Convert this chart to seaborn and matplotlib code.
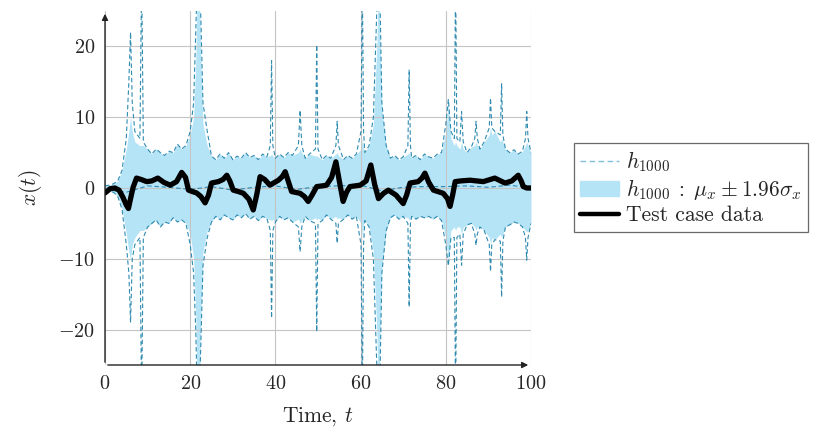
import numpy as np
import pandas as pd
import seaborn as sns
import matplotlib
matplotlib.use("Agg")
import matplotlib.pyplot as plt
from matplotlib.lines import Line2D
from matplotlib.patches import Patch

# ---- data ----
# ensemble band (fill) and the dashed h_1000 curves, on one time grid
t_band = [0, 1, 2, 3, 4, 5, 5.6, 6.0, 6.4, 7, 8.2, 8.6, 9.0, 10, 11, 12, 13, 14, 15, 16,
          17, 18, 19, 20, 20.8, 21.3, 21.7, 22.1, 22.5, 23, 24, 25, 26, 27, 28, 29, 30, 31, 32, 33,
          34, 35, 36, 37, 38, 38.8, 39.1, 39.4, 40, 41, 42, 43, 44, 45.4, 45.8, 46.2, 47, 48, 49.4, 49.7,
          50.0, 51, 52, 53, 54.2, 54.5, 54.8, 56, 57, 58, 59, 60.1, 60.4, 60.7, 61, 62, 63, 63.8, 64.2, 64.6,
          65, 66, 67, 68, 69, 70, 71.1, 71.4, 71.7, 72, 73, 74, 75, 76, 77, 78, 79, 80, 80.6, 81.2,
          82.0, 82.3, 82.6, 83.3, 83.7, 84.1, 85, 86, 86.8, 87.1, 87.4, 88, 89, 90.2, 90.5, 90.8, 91.5, 92.8, 93.1, 93.4,
          94, 95, 96, 97, 98, 98.7, 99.0, 99.3, 100]
band_hi = [0.3, 0.4, 0.6, 1.0, 2.5, 5.5, 8, 10, 8, 6.5, 6, 6, 6, 5.5, 4.8, 5.5, 5.0, 4.6, 5.2, 5.0,
           6.2, 5.5, 6.0, 7.5, 10, 18, 30, 30, 18, 9, 6, 4.5, 4.0, 4.8, 4.2, 5.0, 4.0, 4.5, 4.2, 5.0,
           4.3, 4.6, 4.0, 4.8, 4.4, 4.6, 4.8, 4.5, 4.2, 4.8, 4.3, 5.0, 4.6, 5.0, 5.5, 5.0, 4.2, 4.8, 4.5, 4.6,
           4.4, 4.0, 4.6, 4.2, 4.8, 5.0, 4.6, 4.0, 4.6, 4.2, 4.8, 5.5, 7, 5.5, 5.0, 6.0, 9, 20, 30, 20,
           11, 6, 4.2, 4.6, 4.0, 4.4, 4.8, 5.0, 4.6, 4.2, 4.6, 4.0, 4.8, 4.4, 4.2, 4.8, 5.0, 8, 12, 7,
           6, 6.5, 6, 5.5, 6.5, 5.5, 5.0, 5.8, 6.0, 6.5, 6, 5.5, 6.5, 7.5, 8.6, 7.5, 8.0, 6.5, 7.0, 6.5,
           5.5, 5.0, 5.4, 4.8, 5.2, 6, 6.5, 6, 5.0]
band_lo = [-0.6, -0.5, -0.6, -1.2, -3.0, -6.5, -9, -10, -8, -7, -6, -6, -6, -5.5, -5.0, -4.5, -5.5, -4.8, -5.0, -4.2,
           -4.8, -4.5, -5.0, -6.5, -10, -18, -30, -30, -18, -9, -6, -4.8, -4.0, -4.5, -3.8, -4.2, -4.5, -3.8, -4.2, -3.6,
           -4.4, -4.0, -4.6, -4.0, -4.3, -4.5, -4.6, -4.4, -4.8, -4.0, -4.5, -4.2, -4.8, -4.4, -5.0, -4.6, -4.0, -4.6, -4.2, -4.5,
           -4.3, -4.6, -3.8, -4.4, -4.0, -4.4, -4.2, -4.4, -3.8, -4.4, -4.0, -5.0, -7, -5.0, -4.6, -5.5, -9, -20, -30, -20,
           -11, -6, -4.2, -3.8, -4.4, -4.0, -4.2, -4.5, -4.2, -4.0, -4.4, -4.0, -4.2, -4.0, -4.4, -4.0, -4.6, -7, -10.6, -6,
           -5.5, -6, -5.5, -5.5, -6.5, -5.5, -5.2, -5.0, -5.5, -6, -5.5, -5.5, -6.0, -7.0, -8, -7.0, -7.3, -6.5, -7.0, -6.5,
           -5.5, -5.2, -4.8, -5.0, -5.5, -6, -6.2, -6, -5.0]
dash_hi = [0.3, 0.4, 0.6, 1.0, 2.5, 7, 15, 22, 12, 8, 7, 30, 6.5, 5.5, 4.8, 5.5, 5.0, 4.6, 5.2, 5.0,
           6.2, 5.5, 6.0, 8, 12, 22, 30, 30, 24, 12, 8, 4.5, 4.0, 4.8, 4.2, 5.0, 4.0, 4.5, 4.2, 5.0,
           4.3, 4.6, 4.0, 4.8, 4.4, 6, 18, 6, 4.2, 4.8, 4.3, 5.0, 4.6, 6, 11, 6, 4.2, 4.8, 5.5, 20.2,
           5.5, 4.0, 4.6, 4.2, 6, 9.4, 6, 4.0, 4.6, 4.2, 4.8, 8, 30, 8, 5.0, 6.0, 10, 25, 30, 25,
           12, 6, 4.2, 4.6, 4.0, 4.4, 6, 16.7, 6, 4.2, 4.6, 4.0, 4.8, 4.4, 4.2, 4.8, 5.0, 9, 12.5, 8,
           7, 30, 7, 6.5, 10.8, 6.5, 5.0, 5.8, 7, 9.4, 7, 5.5, 6.5, 8.5, 12.7, 8.5, 8.0, 7.5, 14.8, 7.5,
           5.5, 5.0, 5.4, 4.8, 5.2, 7, 10.8, 7, 5.0]
dash_lo = [-0.6, -0.5, -0.6, -1.2, -3.0, -8, -12, -19, -10, -8, -7, -30, -7, -5.5, -5.0, -4.5, -5.5, -4.8, -5.0, -4.2,
           -4.8, -4.5, -5.0, -8, -12, -20, -30, -30, -22, -11, -7, -4.8, -4.0, -4.5, -3.8, -4.2, -4.5, -3.8, -4.2, -3.6,
           -4.4, -4.0, -4.6, -4.0, -4.3, -6, -18.4, -6, -4.8, -4.0, -4.5, -4.2, -4.8, -5.5, -9, -5.5, -4.0, -4.6, -5, -20.3,
           -5, -4.6, -3.8, -4.4, -5, -7.8, -5, -4.4, -3.8, -4.4, -4.0, -8, -30, -8, -4.6, -5.5, -10, -25, -30, -25,
           -12, -6, -4.2, -3.8, -4.4, -4.0, -5, -16.8, -5, -4.0, -4.4, -4.0, -4.2, -4.0, -4.4, -4.0, -4.6, -8, -11, -7,
           -7, -30, -7, -6.5, -10.9, -6.5, -5.2, -5.0, -6.5, -8.1, -6.5, -5.5, -6.0, -8, -11.8, -8, -7.3, -7.5, -15.4, -7.5,
           -5.5, -5.2, -4.8, -5.0, -5.5, -7, -10.2, -7, -5.0]

# ensemble mean (dashed, near zero)
t_mid = [0, 5, 10, 15, 20, 25, 30, 35, 40, 45, 50, 55, 60, 65, 70, 75, 80, 85, 90, 95, 100]
dash_mid = [-0.2, -0.6, 0.3, 0.1, -0.2, 0.2, -0.3, 0.1, 0.3, -0.2, 0.2, 0.3, 0.4, -0.4, 0.1, 0.2, 0.2, 0.3, 0.1, 0.4, 0.0]

# test case trajectory
t_test = [0, 0.4, 1.2, 2.3, 3.3, 4.2, 5.0, 5.5, 6.0, 6.6, 7.4, 8.5, 9.8, 11.0, 12.4, 13.8, 15.3, 16.8, 18.0, 18.9,
          19.6, 20.5, 21.5, 22.5, 23.5, 24.3, 25.0, 26.6, 27.7, 28.6, 29.3, 30.1, 31.3, 32.5, 33.8, 34.8, 35.6, 36.4, 37.5, 38.7,
          40.7, 41.6, 42.3, 43.0, 43.8, 45.8, 46.8, 47.7, 48.6, 49.7, 51.0, 52.0, 53.2, 54.2, 55.0, 55.9, 56.7, 57.5, 59.9, 61.3,
          62.4, 63.3, 64.2, 65.3, 66.5, 68.3, 70.0, 70.8, 71.6, 73.5, 74.4, 75.1, 76.0, 77.1, 79.4, 80.4, 81.0, 81.6, 82.2, 83.5,
          85.7, 88.8, 91.5, 93.9, 95.5, 97.0, 97.7, 98.2, 99.0, 100]
x_test = [-0.7, -0.5, -0.1, 0.0, -0.3, -1.3, -2.4, -2.9, -1.5, 0.1, 1.4, 1.2, 0.9, 1.0, 1.4, 0.8, 0.4, 0.9, 2.2, 1.5,
          -0.3, -0.5, -0.7, -1.2, -2.1, -1.0, 0.7, 0.9, 1.2, 1.8, 1.0, -0.3, -0.5, -0.75, -1.6, -3.1, -1.0, 1.6, 1.2, 0.4,
          1.1, 1.6, 2.3, 1.0, -0.5, -0.75, -1.2, -1.9, -1.0, 0.2, 0.3, 0.4, 1.5, 3.7, 1.0, -1.9, -0.6, 0.2, 0.4, 1.0,
          3.25, 0.5, -1.5, -0.8, -0.3, -1.0, -2.2, -1.0, 0.7, 0.9, 1.4, 2.1, 0.8, -0.3, -0.75, -1.5, -2.6, -1.0, 0.9, 1.0,
          1.1, 0.9, 1.4, 0.7, 1.0, 1.8, 1.0, 0.2, 0.0, 0.0]

labels = [r"$h_{1000}$", r"$h_{1000}\;:\;\mu_x \pm 1.96\sigma_x$", "Test case data"]

band_df = pd.DataFrame({"t": t_band, "hi": band_hi, "lo": band_lo,
                        "dhi": dash_hi, "dlo": dash_lo})
mid_df = pd.DataFrame({"t": t_mid, "mid": dash_mid})
test_df = pd.DataFrame({"t": t_test, "x": x_test})

# ---- style ----
sns.set_theme(style="whitegrid")
plt.rcParams["font.family"] = ["cmr10", "DejaVu Serif"]
plt.rcParams["mathtext.fontset"] = "cm"
plt.rcParams["axes.formatter.use_mathtext"] = True

fill_c = "#b6e4f7"
dash_c = "#2f8bb0"

fig = plt.figure(figsize=(8.29, 4.44), dpi=100)
ax = fig.add_axes([105 / 829, 79 / 444, 426 / 829, 354 / 444])

ax.fill_between(band_df["t"], band_df["lo"], band_df["hi"], color=fill_c, lw=0, zorder=2)
for col in ["dhi", "dlo"]:
    sns.lineplot(data=band_df, x="t", y=col, ax=ax, color=dash_c, lw=0.8,
                 linestyle=(0, (4, 2.5)), zorder=3)
sns.lineplot(data=mid_df, x="t", y="mid", ax=ax, color=dash_c, lw=0.8,
             linestyle=(0, (4, 2.5)), zorder=3)
sns.lineplot(data=test_df, x="t", y="x", ax=ax, color="black", lw=3.8, zorder=4)

ax.set_xlim(0, 100)
ax.set_ylim(-25, 25)
ax.set_xticks([0, 20, 40, 60, 80, 100])
ax.set_yticks([-20, -10, 0, 10, 20])
ax.tick_params(labelsize=14.5, length=0, pad=7)
ax.set_axisbelow(False)
ax.grid(True, color="#c4c4c4", lw=0.8, zorder=2.5)
ax.set_facecolor("white")
for s in ["top", "right", "left", "bottom"]:
    ax.spines[s].set_visible(False)

# axis arrows
ax.annotate("", xy=(1.0, 0), xytext=(0, 0), xycoords="axes fraction",
            arrowprops=dict(arrowstyle="-|>", color="#222222", lw=1.0, mutation_scale=9),
            annotation_clip=False, zorder=6)
ax.annotate("", xy=(0, 1.0), xytext=(0, 0), xycoords="axes fraction",
            arrowprops=dict(arrowstyle="-|>", color="#222222", lw=1.0, mutation_scale=9),
            annotation_clip=False, zorder=6)

ax.set_xlabel(r"Time, $t$", fontsize=15.5, labelpad=9)
ax.set_ylabel(r"$x(t)$", fontsize=15.5, labelpad=10)

handles = [Line2D([], [], color="#7fbedc", lw=1.0, linestyle=(0, (4, 2.5))),
           Patch(facecolor=fill_c, edgecolor=fill_c),
           Line2D([], [], color="black", lw=3.2)]
leg = fig.legend(handles, labels, loc="upper left", bbox_to_anchor=(574 / 829, 1 - 143 / 444),
                 fontsize=15.5, frameon=True, fancybox=False, handlelength=1.8,
                 borderpad=0.3, labelspacing=0.15, handletextpad=0.3, borderaxespad=0)
leg.get_frame().set_edgecolor("#444444")
leg.get_frame().set_linewidth(0.9)

fig.savefig("out.png", dpi=100)
